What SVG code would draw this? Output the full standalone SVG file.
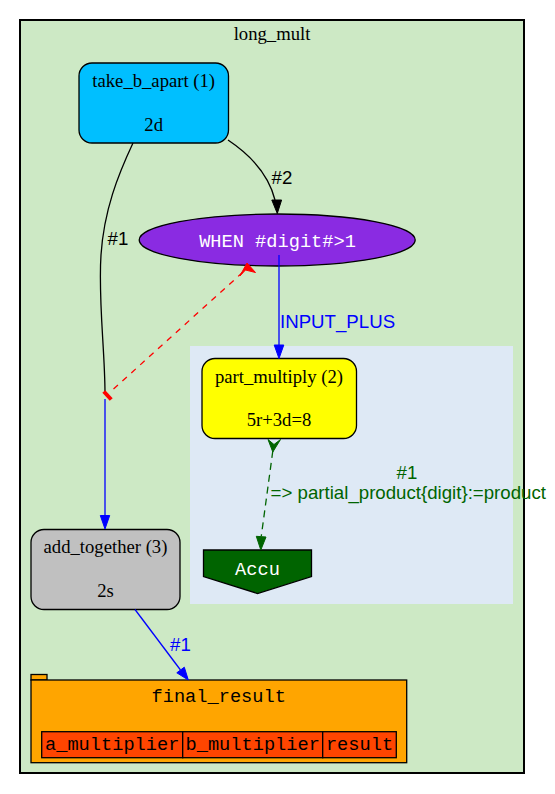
<svg xmlns="http://www.w3.org/2000/svg" width="555" height="794" viewBox="0 0 555 794">
<style>
.serif{font-family:"Liberation Serif","Times New Roman",serif;font-size:18.67px;fill:#000}
.sans{font-family:"Liberation Sans",Arial,sans-serif;font-size:18.67px}
.mono{font-family:"Liberation Mono","Courier New",monospace;font-size:18.67px}
.node{stroke:#000;stroke-width:1.3}
.mid{text-anchor:middle}
</style>
<rect width="555" height="794" fill="#ffffff"/>
<g id="cluster_long_mult">
<rect x="20" y="20" width="504" height="753" fill="#cde9c5" stroke="#000" stroke-width="2"/>
<text class="serif mid" x="272" y="40">long_mult</text>
</g>
<g id="cluster_box">
<rect x="190" y="346" width="323" height="258" fill="#dee9f5"/>
</g>
<g id="take_b_apart">
<rect class="node" x="79" y="63" width="149.5" height="80" rx="13" ry="13" fill="#00bfff"/>
<text class="serif mid" x="153.7" y="86.5">take_b_apart (1)</text>
<text class="serif mid" x="153.7" y="130.5">2d</text>
</g>
<g id="when_digit">
<ellipse class="node" cx="277.2" cy="240" rx="138" ry="26" fill="#8a2be2"/>
<text class="mono mid" x="277.5" y="246.5" fill="#ffffff">WHEN #digit#&gt;1</text>
</g>
<g id="part_multiply">
<rect class="node" x="202" y="358.5" width="154.5" height="80" rx="13" ry="13" fill="#ffff00"/>
<text class="serif mid" x="279" y="382.5">part_multiply (2)</text>
<text class="serif mid" x="279" y="425.5">5r+3d=8</text>
</g>
<g id="accu">
<polygon class="node" points="203.5,550 311.5,550 311.5,576.5 257.5,593.5 203.5,576.5" fill="#006400"/>
<text class="mono mid" x="257.5" y="574.5" fill="#ffffff">Accu</text>
</g>
<g id="add_together">
<rect class="node" x="31" y="529.5" width="149" height="80" rx="13" ry="13" fill="#c0c0c0"/>
<text class="serif mid" x="105.5" y="552.5">add_together (3)</text>
<text class="serif mid" x="105.5" y="596.5">2s</text>
</g>
<g id="final_result">
<rect class="node" x="31" y="674.5" width="16" height="5.5" fill="#ffa500"/>
<rect class="node" x="31" y="680" width="375.7" height="82.7" fill="#ffa500"/>
<text class="mono mid" x="218.7" y="701.5">final_result</text>
<rect class="node" x="41.7" y="731.7" width="141" height="26" fill="#ff4500"/>
<rect class="node" x="182.7" y="731.7" width="140" height="26" fill="#ff4500"/>
<rect class="node" x="322.7" y="731.7" width="73.6" height="26" fill="#ff4500"/>
<text class="mono mid" x="112.2" y="750">a_multiplier</text>
<text class="mono mid" x="252.7" y="750">b_multiplier</text>
<text class="mono mid" x="359.5" y="750">result</text>
</g>
<g id="connectors" fill="none">
<path d="M228,140 C249,154 268,172 275,200" stroke="#000" stroke-width="1.3"/>
<polygon points="271.8,200 281.6,200 277.3,213.5" fill="#000" stroke="#000"/>
<text class="sans" x="271.5" y="184" fill="#000">#2</text>
<path d="M133,143 C118,175 104,210 101,255 C98,300 105,350 105,394" stroke="#000" stroke-width="1.3"/>
<text class="sans" x="107.5" y="245" fill="#000">#1</text>
<path d="M105,399 L105,516" stroke="#0000ff" stroke-width="1.3"/>
<polygon points="100.3,515.5 109.7,515.5 105,529" fill="#0000ff" stroke="#0000ff"/>
<path d="M113.5,389 L243,272" stroke="#ff0000" stroke-width="1.3" stroke-dasharray="6,6"/>
<polygon points="247,263 255.5,272.5 245.5,270 239.8,276" fill="#ff0000" stroke="#ff0000" stroke-linejoin="round"/>
<path d="M103.8,391.5 L111.2,399.5" stroke="#ff0000" stroke-width="4"/>
<path d="M279,255 L279,345" stroke="#0000ff" stroke-width="1.3"/>
<polygon points="274.2,345 283.8,345 279,358.5" fill="#0000ff" stroke="#0000ff"/>
<text class="sans" x="280" y="328" fill="#0000ff">INPUT_PLUS</text>
<polygon points="268,439.5 274,444.5 280.5,439.5 272.8,452" fill="#006400" stroke="#006400"/>
<path d="M272.8,451 L261.3,536" stroke="#006400" stroke-width="1.3" stroke-dasharray="7,5"/>
<polygon points="256.3,536.3 266,537 260.8,550" fill="#006400" stroke="#006400"/>
<text class="sans mid" x="407" y="479" fill="#006400">#1</text>
<text class="sans mid" x="408.3" y="499" fill="#006400">=&gt; partial_product{digit}:=product</text>
<path d="M135,609.5 L180.5,670" stroke="#0000ff" stroke-width="1.3"/>
<polygon points="176.8,672.8 184.3,667.2 188.3,680" fill="#0000ff" stroke="#0000ff"/>
<text class="sans" x="170" y="651" fill="#0000ff">#1</text>
</g>
</svg>
